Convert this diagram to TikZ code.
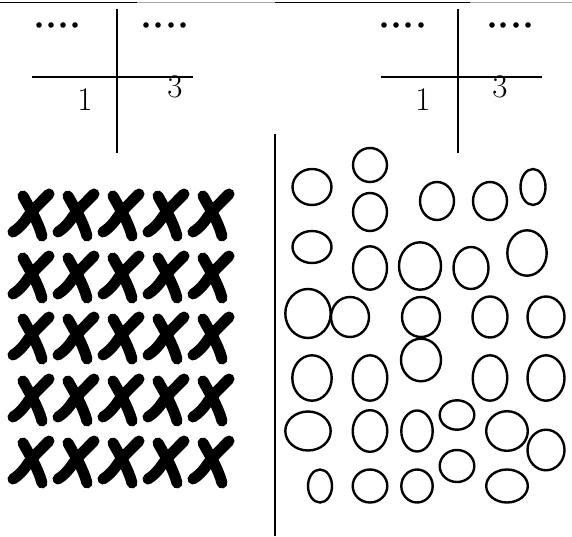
\documentclass[tikz,border=0pt]{standalone}
\usepackage{tikz}
\usetikzlibrary{calc}

\begin{document}
\begin{tikzpicture}[x=1pt, y=-1pt,
      axis/.style={line width=2.6pt},
      tally/.style={fill=black, radius=2.8},
      digit/.style={font=\fontsize{33}{33}\selectfont, inner sep=0pt},
      blob/.style={line width=2.4pt},
      crossmark/.pic={
        \draw[line width=11pt, line cap=round] (17,-21) .. controls (6,-10) and (-2,-2) .. (-5,3)
              .. controls (-9,9) and (-14,14) .. (-19,17);
        \draw[line width=11pt, line cap=round] (-9,-19) .. controls (-2,-6) and (6,6) .. (10,21);
      }
    ]
    \useasboundingbox (0,0) rectangle (572,537);

    % Top rule
    \draw[line width=1.4pt, gray!70] (0,2.5) -- (572,2.5);
    \draw[line width=1.8pt] (0,2.5) -- (137,2.5);
    \draw[line width=1.8pt] (275,2.5) -- (470,2.5);

    % Left cross
    \coordinate (lc) at (117,77);
    \draw[axis] (117,9) coordinate (lt) -- (117,153) coordinate (lb);
    \draw[axis] (32,77) coordinate (ll) -- (193,77) coordinate (lr);
    \foreach \x in {39,51,63,75,146,158,171,183}
      \fill[tally] (\x,25) circle;
    \node[digit] (lone) at (85,100) {1};
    \node[digit] (lthree) at (175,87) {3};

    % Right cross
    \coordinate (rc) at (458,77);
    \draw[axis] (458,9) coordinate (rt) -- (458,153) coordinate (rb);
    \draw[axis] (381,77) coordinate (rl) -- (542,77) coordinate (rr);
    \foreach \x in {384,396,408,421,492,503,516,528}
      \fill[tally] (\x,25) circle;
    \node[digit] (rone) at (423,100) {1};
    \node[digit] (rthree) at (500,87) {3};

    % Divider
    \draw[axis] (275,134) coordinate (dt) -- (275,536) coordinate (db);

    % Crosses, 5 x 5
    \foreach \cx in {32,77,122,167,212}
      \foreach \cy in {215,277,338,400,462}
        \pic at (\cx,\cy) {crossmark};

    % Ovals
    \foreach \ox/\oy/\rx/\ry in {
        312/187/19.5/18, 370/165/17/17, 370/212/17/19, 437/201/17/19,
        490/201/17/19, 533/187/12.5/18,
        312/247/19.5/16, 370/268/17/21.7, 420/266/21/23.7, 471/268/17.5/21,
        527/253/19.7/22.7,
        308/313.5/22.7/24.5, 350/317/19/20, 421/317/19/20, 490/317/17.5/20.5,
        546/317/18.5/20.5,
        421/360/20/21.3, 312/378/19.7/22.7, 370/378/17.3/22.7,
        490/378/17.3/22.7, 546/378/18.5/22.7,
        308/431/22.7/19.5, 370/431/17.3/20.8, 417/431/15.7/20.5,
        457/415/17.3/14.7, 507/431/20.8/19.8, 546/450/18.5/20.3,
        457/466/17.3/16,
        320/486/12/16.5, 370/486/17.3/16.5, 417/486/15.7/16.5, 507/486/20.8/16.5}
      \draw[blob] (\ox,\oy) ellipse [x radius=\rx, y radius=\ry];
  \end{tikzpicture}
\end{document}
